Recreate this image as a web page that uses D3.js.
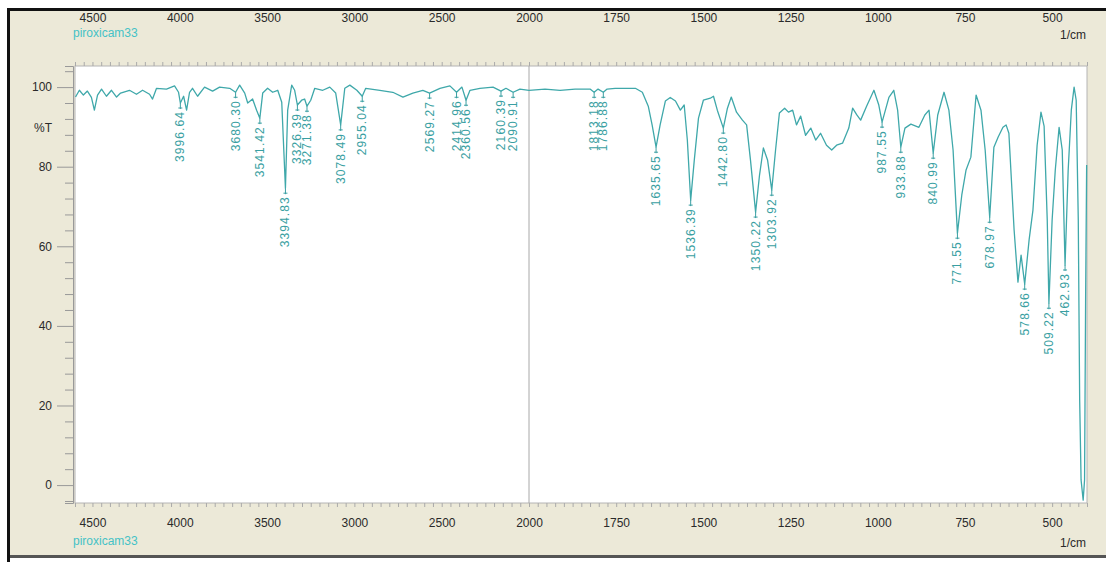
<!DOCTYPE html>
<html>
<head>
<meta charset="utf-8">
<script src="https://d3js.org/d3.v7.min.js"></script>
<style>
  body { margin: 0; background: #fff; }
  text { font-family: "Liberation Sans", Arial, sans-serif; }
</style>
</head>
<body>
<svg width="1106" height="562"></svg>
<script>
// spectrum: wavenumber (1/cm) and transmittance (%T)
const wn = [4597, 4575, 4552, 4529, 4506, 4489, 4471, 4448, 4420, 4391, 4362, 4339, 4288, 4248, 4213, 4173, 4156, 4133, 4076, 4030, 4007, 3996.64, 3978, 3961, 3944, 3927, 3898, 3858, 3812, 3772, 3714, 3680.30, 3657, 3628, 3611, 3583, 3560, 3541.42, 3525, 3497, 3468, 3439, 3416, 3394.83, 3382, 3359, 3342, 3326.39, 3302, 3285, 3271.38, 3250, 3227, 3181, 3141, 3107, 3078.49, 3055, 3026, 2986, 2955.04, 2935, 2854, 2780, 2722, 2665, 2608, 2569.27, 2510, 2453, 2414.96, 2384, 2360.56, 2338, 2281, 2206, 2160.39, 2132, 2090.91, 2052, 2000,
  1954, 1911, 1868, 1825, 1813.18, 1802, 1786.88, 1776, 1753, 1724, 1695, 1675, 1658, 1647, 1635.65, 1624, 1609, 1595, 1580, 1566, 1555, 1546, 1536.39, 1526, 1514, 1500, 1480, 1471, 1460, 1442.80, 1431, 1420, 1405, 1388, 1376, 1365, 1350.22, 1339, 1328, 1316, 1303.92, 1293, 1282, 1267, 1256, 1244, 1233, 1221, 1207, 1192, 1178, 1164, 1147, 1132, 1118, 1101, 1083, 1072, 1060, 1049, 1032, 1011, 997, 987.55, 968, 954, 943, 933.88, 922, 905, 882, 865, 853, 840.99, 828, 810, 796, 784, 771.55, 759, 747, 733, 718, 704, 692, 678.97, 667, 655, 641, 632, 624, 609, 598, 589, 578.66, 566, 555, 543, 532, 523, 514, 509.22, 500, 491, 480, 471, 462.93, 454, 445, 437, 431, 425, 421, 417, 411, 407, 404, 401];
const trans = [97.5, 99.2, 98.0, 99.0, 97.4, 94.2, 98.0, 99.5, 97.7, 99.2, 97.5, 98.5, 99.2, 98.2, 99.2, 98.2, 97.0, 99.7, 99.5, 100.3, 98.7, 96.0, 97.7, 94.2, 98.7, 99.7, 97.7, 100.0, 99.0, 100.0, 99.7, 98.7, 100.5, 98.5, 96.0, 97.0, 94.2, 92.2, 98.5, 99.7, 98.7, 99.2, 96.2, 74.6, 94.2, 100.5, 99.2, 95.5, 96.7, 97.0, 95.2, 96.7, 99.7, 99.2, 100.0, 98.5, 90.5, 99.7, 100.5, 99.2, 97.7, 99.7, 99.2, 98.7, 97.5, 98.5, 99.2, 98.5, 99.7, 100.3, 98.7, 100.0, 96.7, 99.2, 99.7, 100.0, 99.0, 99.7, 98.7, 99.5, 99.2,
  99.5, 99.2, 99.5, 99.5, 98.7, 99.5, 98.7, 99.5, 99.7, 99.7, 99.7, 98.7, 95.2, 90.5, 84.9, 90.5, 96.5, 97.4, 96.5, 94.2, 95.5, 86.7, 71.6, 81.7, 92.2, 96.7, 97.2, 97.7, 94.2, 89.7, 94.7, 97.5, 93.7, 91.7, 90.5, 81.7, 68.6, 77.9, 84.7, 81.7, 74.1, 84.2, 93.5, 94.7, 93.7, 94.2, 90.5, 92.7, 87.9, 89.7, 86.7, 88.4, 85.4, 84.2, 85.4, 85.9, 89.7, 94.7, 93.0, 91.7, 95.2, 99.2, 95.5, 91.2, 97.4, 99.2, 94.2, 84.9, 89.7, 90.7, 89.9, 93.0, 94.2, 83.4, 93.0, 98.7, 94.2, 84.2, 63.3, 72.9, 79.1, 82.4, 98.0, 94.2, 84.2, 67.3, 84.9, 87.4, 89.9, 90.5, 88.4, 64.1, 51.0, 57.8, 50.5, 61.6, 69.1, 85.4, 93.7, 90.2, 66.6, 45.7, 66.6, 79.1, 89.9, 84.2, 55.3, 79.1, 94.2, 100.0, 96.7, 66.6, 21.4, 1.3, -3.8, 1.3, 46.5, 80.4];

// labelled peaks
const peakWn = [3996.64, 3680.30, 3541.42, 3394.83, 3326.39, 3271.38, 3078.49, 2955.04, 2569.27, 2414.96, 2360.56, 2160.39, 2090.91, 1813.18, 1786.88, 1635.65, 1536.39, 1442.80, 1350.22, 1303.92, 987.55, 933.88, 840.99, 771.55, 678.97, 578.66, 509.22, 462.93];

const xTickLabels = [4500, 4000, 3500, 3000, 2500, 2000, 1750, 1500, 1250, 1000, 750, 500];
const yTickLabels = [0, 20, 40, 60, 80, 100];
const sampleName = "piroxicam33";
const unitName = "1/cm";
const yName = "%T";

const svg = d3.select("svg");
const plotL = 75, plotT = 66, plotW = 1012, plotH = 437;

// window background + borders
svg.append("rect").attr("x", 10).attr("y", 11).attr("width", 1096).attr("height", 545).attr("fill", "#ece9d8");
svg.append("rect").attr("x", 7).attr("y", 8).attr("width", 1099).attr("height", 3).attr("fill", "#111");
svg.append("rect").attr("x", 7).attr("y", 8).attr("width", 3).attr("height", 554).attr("fill", "#111");
svg.append("rect").attr("x", 10).attr("y", 555).attr("width", 1096).attr("height", 3).attr("fill", "#555");

// scales (the range above 2000 1/cm is drawn at half scale)
const x = d3.scaleLinear().domain([4600, 2000, 400]).range([0, 454, plotW]);
const y = d3.scaleLinear().domain([-4.5, 105.3]).range([plotH, 0]);

const g = svg.append("g").attr("transform", "translate(" + plotL + "," + plotT + ")");
g.append("rect").attr("width", plotW).attr("height", plotH).attr("fill", "#fff").attr("stroke", "#b4b4b4");

// divider at 2000
g.append("line").attr("x1", x(2000)).attr("x2", x(2000)).attr("y1", 0).attr("y2", plotH)
  .attr("stroke", "#a8a8a8").attr("stroke-width", 1);

// minor ticks on top and bottom
const minorX = d3.range(4600, 2000, -50).concat(d3.range(2000, 399, -25));
g.append("g").call(d3.axisTop(x).tickValues(minorX).tickSize(4).tickFormat(""))
  .call(a => a.select(".domain").remove())
  .selectAll("line").attr("stroke", "#aaa");
g.append("g").attr("transform", "translate(0," + plotH + ")")
  .call(d3.axisBottom(x).tickValues(minorX).tickSize(4).tickFormat(""))
  .call(a => a.select(".domain").remove())
  .selectAll("line").attr("stroke", "#aaa");

// top and bottom tick labels
function styleLabels(a) {
  a.select(".domain").remove();
  a.selectAll("text").attr("fill", "#2a2a2a").style("font-size", "12px")
    .style("font-family", "'Liberation Sans', Arial, sans-serif");
}
svg.append("g").attr("transform", "translate(" + plotL + ",25)")
  .call(d3.axisTop(x).tickValues(xTickLabels).tickSize(0).tickPadding(3).tickFormat(d3.format("d")))
  .call(styleLabels);
svg.append("g").attr("transform", "translate(" + plotL + ",515)")
  .call(d3.axisBottom(x).tickValues(xTickLabels).tickSize(0).tickPadding(3.5).tickFormat(d3.format("d")))
  .call(styleLabels);

// sample name and unit, top and bottom
[37, 545].forEach(function (by) {
  svg.append("text").attr("x", 73).attr("y", by).attr("fill", "#45c2c6").style("font-size", "12px").text(sampleName);
  svg.append("text").attr("x", 1086).attr("y", by + 2).attr("text-anchor", "end").attr("fill", "#2a2a2a")
    .style("font-size", "12px").text(unitName);
});

// left axis
const minorY = d3.range(-4, 105, 4).filter(v => v % 20 !== 0);
g.append("g").attr("transform", "translate(-2,0)")
  .call(d3.axisLeft(y).tickValues(minorY).tickSize(8).tickFormat(""))
  .call(a => a.select(".domain").attr("stroke", "#999"))
  .selectAll("line").attr("stroke", "#999");
g.append("g").attr("transform", "translate(-2,0)")
  .call(d3.axisLeft(y).tickValues(yTickLabels).tickSize(16).tickPadding(5))
  .call(a => a.select(".domain").remove())
  .call(a => a.selectAll("line").attr("stroke", "#999"))
  .call(styleLabels);
svg.append("text").attr("x", 43).attr("y", 132).attr("text-anchor", "middle").attr("fill", "#2a2a2a")
  .style("font-size", "12px").text(yName);

// spectrum
const pts = wn.map((w, i) => [w, trans[i]]);
const line = d3.line().x(d => x(d[0])).y(d => y(d[1]));
g.append("path").datum(pts).attr("d", line).attr("fill", "none")
  .attr("stroke", "#3fa8aa").attr("stroke-width", 1.3).attr("stroke-linejoin", "round");

// peak labels
const peaks = peakWn.map(p => [p, trans[wn.indexOf(p)]]);
const pk = g.selectAll("g.peak").data(peaks).enter().append("g").attr("class", "peak")
  .attr("transform", d => "translate(" + x(d[0]) + "," + y(d[1]) + ")");
pk.append("line").attr("x1", 0).attr("x2", 0).attr("y1", 0).attr("y2", 6)
  .attr("stroke", "#3a9fa2").attr("stroke-width", 1);
pk.append("line").attr("x1", -2).attr("x2", 2).attr("y1", 5).attr("y2", 5)
  .attr("stroke", "#3a9fa2").attr("stroke-width", 1);
pk.append("text").attr("transform", "translate(4,8) rotate(-90)")
  .attr("text-anchor", "end").attr("fill", "#3a9fa2").style("font-size", "12px")
  .style("letter-spacing", "1.1px")
  .text(d => d3.format(".2f")(d[0]));
</script>
</body>
</html>
